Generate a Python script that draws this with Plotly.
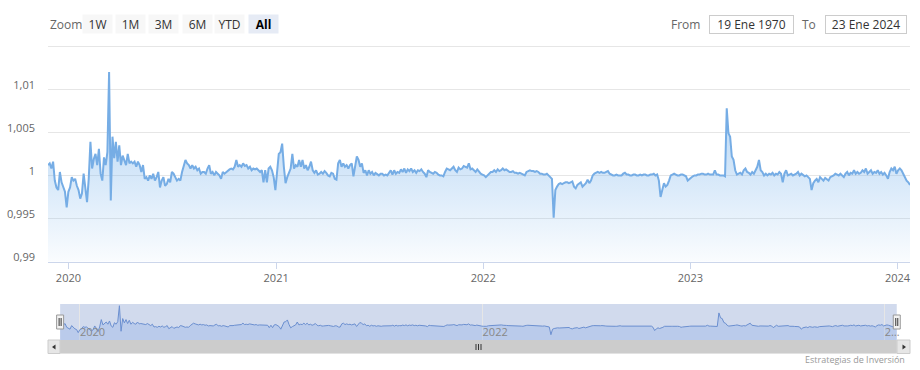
import pandas as pd
import plotly.graph_objects as go

# ---- data ----
vals_2019_20 = [
    1.0012, 1.0014, 1.0008, 1.0016, 0.9994, 0.9986, 0.9983, 1.0004, 0.9992, 0.9985,
    0.9981, 0.9963, 0.9981, 0.9986, 0.9998, 0.9994, 0.9996, 0.9988, 0.9983, 0.9973,
    0.9979, 1.0002, 0.9988, 0.9969,
    0.9996, 1.0039, 1.0008, 1.0019, 1.0025, 1.0012, 1.0031, 1.0002, 0.9994, 1.0021,
    1.0012, 1.0027,
    1.0120, 0.9971,
    1.0045, 1.0020, 1.0039, 1.0016, 1.0035, 1.0012,
    1.0023, 1.0016, 1.0012, 1.0025, 1.0014, 1.0016, 1.0014, 1.0016, 1.0010,
    1.0016, 1.0012, 1.0004, 1.0012, 0.9996, 0.9998, 0.9994, 1.0000, 0.9996, 1.0002,
    0.9994, 0.9998, 1.0004, 0.9986, 0.9994, 0.9998, 0.9988, 0.9990, 0.9996, 0.9992,
    1.0004, 1.0002, 0.9998, 0.9994, 0.9996, 0.9994, 1.0004, 1.0010, 1.0018, 1.0014,
    1.0012, 1.0008, 1.0012, 1.0008, 1.0010, 1.0006, 1.0008, 1.0002, 1.0004, 1.0004,
    1.0002, 1.0008, 1.0012, 1.0002, 1.0004, 1.0000, 1.0004, 1.0002, 1.0000, 0.9996,
    1.0004, 1.0002,
]
vals_2020_21 = [
    1.0004, 1.0006, 1.0007, 1.0008, 1.0007, 1.0010, 1.0018, 1.0010, 1.0012, 1.0010,
    1.0014, 1.0011, 1.0012, 1.0008, 1.0010, 1.0006, 1.0008, 1.0007, 1.0008, 1.0006,
    1.0004, 1.0006, 0.9992, 1.0006, 0.9992, 1.0008, 1.0010, 1.0006, 0.9998, 0.9983,
    1.0006, 1.0025, 1.0027, 1.0037, 1.0010, 0.9991, 0.9998, 1.0004, 1.0008, 1.0025,
    1.0008, 1.0012, 1.0010, 1.0018, 1.0010, 1.0018, 1.0008, 1.0012, 1.0006, 1.0010,
    1.0016, 1.0006, 1.0003, 1.0006, 1.0001, 1.0002, 1.0004, 1.0002, 1.0005, 1.0003,
    1.0000, 0.9999, 1.0003, 1.0002, 0.9996, 0.9995, 1.0014, 1.0018, 1.0010, 1.0014,
    1.0010, 1.0012, 1.0008, 1.0012, 1.0014, 0.9999, 1.0010, 1.0022, 1.0018, 1.0010,
    1.0014, 1.0003, 1.0006, 1.0000, 1.0006, 1.0002, 1.0004, 1.0000, 1.0003, 1.0001,
    1.0000, 1.0002, 1.0002, 1.0000, 1.0001, 1.0000, 1.0003, 1.0006,
    1.0001, 1.0006, 1.0002, 1.0004, 1.0003,
]
vals_2021_22 = [
    1.0007, 1.0004, 1.0008, 1.0003, 1.0007, 1.0005, 1.0008, 1.0004, 1.0006, 1.0003,
    1.0006, 1.0005, 1.0007, 1.0004, 1.0002, 0.9998, 1.0006, 1.0004, 1.0003, 1.0002,
    1.0004, 1.0003, 1.0001, 1.0000, 1.0000, 0.9999, 1.0004, 1.0008, 1.0007, 1.0006,
    1.0008, 1.0010, 1.0006, 1.0004, 1.0009, 1.0007, 1.0008, 1.0011, 1.0010, 1.0009,
    1.0014, 1.0007, 1.0008, 1.0006, 1.0004, 1.0007, 1.0004, 1.0002, 1.0001, 1.0000,
    0.9998, 1.0000, 1.0003, 1.0004, 1.0004, 1.0006, 1.0004, 1.0007, 1.0005, 1.0006,
    1.0008, 1.0006, 1.0007, 1.0005, 1.0004, 1.0004, 1.0005, 1.0003, 1.0003, 1.0002,
    1.0003, 1.0002, 1.0001, 1.0000, 1.0004, 1.0005, 1.0006, 1.0005, 1.0005, 1.0004,
    1.0005, 1.0004, 1.0002, 1.0002, 1.0001, 1.0001, 1.0002,
    1.0000, 0.9998, 0.9996, 0.9951, 0.9983, 0.9987, 0.9990, 0.9991, 0.9990, 0.9991,
    0.9992, 0.9992, 0.9991, 0.9992, 0.9993,
]
vals_2022_23 = [
    0.9987, 0.9985, 0.9989, 0.9991, 0.9992, 0.9987, 0.9989, 0.9991, 0.9995, 0.9991,
    0.9994, 1.0000, 1.0002, 1.0003, 1.0004, 1.0003, 1.0004, 1.0003, 1.0003, 1.0004,
    1.0005, 1.0002, 1.0001, 1.0000, 1.0000, 1.0001, 1.0000, 1.0000, 1.0000, 1.0002,
    1.0003, 1.0001, 1.0001, 1.0000, 1.0000, 1.0001, 1.0001, 1.0000, 1.0000, 1.0001,
    1.0000, 1.0001, 1.0001, 1.0000, 1.0000, 1.0001, 1.0001, 1.0002, 1.0000, 1.0001,
    0.9994, 0.9975, 0.9985, 0.9991, 0.9987, 0.9989, 0.9994, 1.0000, 1.0001, 1.0002,
    1.0001, 1.0000, 1.0000, 1.0001, 1.0001, 1.0000, 0.9999, 0.9994, 0.9996, 0.9998,
    0.9999, 1.0000, 1.0000, 1.0001, 1.0001, 1.0002, 1.0002, 1.0001, 1.0001, 1.0002,
    1.0001, 1.0001, 1.0001, 1.0006, 1.0001, 1.0001, 1.0000, 1.0000,
    1.0000, 0.9999, 1.0078, 1.0049, 1.0045, 1.0022, 1.0018, 1.0006, 1.0001, 1.0002,
    1.0003, 1.0001, 1.0006, 1.0008, 1.0004,
]
vals_2023_24 = [
    1.0003, 1.0001, 1.0004, 1.0002, 1.0006, 1.0010, 1.0018, 1.0006, 1.0004, 1.0000,
    1.0002, 1.0000, 1.0002, 1.0001, 1.0003, 1.0000, 1.0002, 1.0001, 1.0004, 1.0002,
    0.9992, 1.0002, 1.0006, 1.0000, 1.0001, 1.0002, 1.0000, 1.0001, 1.0002, 1.0004,
    1.0000, 1.0002, 1.0000, 0.9999, 1.0000, 0.9998, 0.9996, 0.9983, 0.9991, 0.9994,
    0.9996, 0.9992, 0.9998, 0.9996, 0.9994, 0.9997, 0.9995, 0.9994, 0.9998, 0.9999,
    1.0000, 1.0002, 1.0001, 1.0000, 1.0002, 1.0000, 0.9998, 1.0002, 1.0004, 1.0000,
    1.0003, 1.0002, 1.0006, 1.0002, 1.0004, 1.0002, 1.0003, 1.0006, 1.0004, 1.0008,
    1.0002, 1.0004, 1.0006, 1.0002, 1.0004, 1.0003, 1.0006, 1.0002, 1.0004, 1.0001,
    1.0003, 1.0000, 0.9996, 1.0004, 1.0008, 1.0006, 1.0010, 1.0002, 1.0006, 1.0008,
    1.0006, 1.0002, 0.9998, 0.9994, 0.9992, 0.9989,
]
first_date = "2019-11-26"
last_date = "2024-01-23"

y_ticks = [0.99, 0.995, 1.0, 1.005, 1.01, 1.015]
y_labels = ["0,99", "0,995", "1", "1,005", "1,01", ""]
x_ticks = ["2020-01-01", "2021-01-01", "2022-01-01", "2023-01-01", "2024-01-01"]
x_labels = ["2020", "2021", "2022", "2023", "2024"]
nav_ticks = ["2020-01-01", "2022-01-01", "2024-01-01"]
nav_labels = ["2020", "2022", "2…"]
nav_range = ["2019-11-04", "2024-02-16"]
zoom_buttons = ["1W", "1M", "3M", "6M", "YTD", "All"]
from_text = "19 Ene 1970"
to_text = "23 Ene 2024"
credit_text = "Estrategias de Inversión"

values = vals_2019_20 + vals_2020_21 + vals_2021_22 + vals_2022_23 + vals_2023_24
dates = pd.date_range(first_date, last_date, periods=len(values))

# ---- layout helpers (pixel -> paper) ----
W, H, L, R = 920, 370, 48, 10
PW = W - L - R


def px(x):
    return (x - L) / PW


def py(y):
    return 1 - y / H


FONT = "Open Sans, Arial, sans-serif"

fig = go.Figure()

fig.add_trace(go.Scatter(
    x=dates, y=values, mode="lines",
    line=dict(color="#76ade5", width=2),
    fill="tozeroy",
    fillgradient=dict(
        type="vertical", start=0.99, stop=1.012,
        colorscale=[[0, "rgba(124,181,236,0.04)"], [1, "rgba(124,181,236,0.65)"]],
    ),
    hoverinfo="skip", showlegend=False,
))

fig.add_trace(go.Scatter(
    x=dates, y=values, mode="lines", xaxis="x2", yaxis="y2",
    line=dict(color="#6b8fd0", width=1),
    fill="tozeroy", fillcolor="rgba(124,165,230,0.28)",
    hoverinfo="skip", showlegend=False,
))

shapes = []
# navigator mask (selected range)
shapes.append(dict(type="rect", xref="x2", yref="paper", x0=dates[0], x1=dates[-1],
                   y0=py(340), y1=py(304), fillcolor="rgba(102,133,194,0.3)",
                   line=dict(width=0), layer="below"))
# scrollbar
shapes.append(dict(type="rect", xref="paper", yref="paper", x0=px(48), x1=px(910),
                   y0=py(353.5), y1=py(340), fillcolor="#f2f2f2", line=dict(width=0)))
shapes.append(dict(type="rect", xref="x2", yref="paper", x0=dates[0], x1=dates[-1],
                   y0=py(353.5), y1=py(340), fillcolor="#cccccc", line=dict(width=0)))
for a, b in [(48, 60), (897, 910)]:
    shapes.append(dict(type="rect", xref="paper", yref="paper", x0=px(a), x1=px(b),
                       y0=py(353.5), y1=py(340), fillcolor="#e6e6e6",
                       line=dict(color="#cccccc", width=1)))
shapes.append(dict(type="path", xref="paper", yref="paper",
                   path=f"M {px(52)} {py(347)} L {px(55.5)} {py(344.5)} L {px(55.5)} {py(349.5)} Z",
                   fillcolor="#333333", line=dict(width=0)))
shapes.append(dict(type="path", xref="paper", yref="paper",
                   path=f"M {px(906)} {py(347)} L {px(902.5)} {py(344.5)} L {px(902.5)} {py(349.5)} Z",
                   fillcolor="#333333", line=dict(width=0)))
for xr in (476, 478.5, 481):
    shapes.append(dict(type="line", xref="paper", yref="paper", x0=px(xr), x1=px(xr),
                       y0=py(350), y1=py(344), line=dict(color="#333333", width=1)))
# navigator handles
for d in (dates[0], dates[-1]):
    shapes.append(dict(type="rect", xref="x2", yref="paper", xsizemode="pixel", xanchor=d,
                       x0=-3.5, x1=3.5, y0=py(329), y1=py(315),
                       fillcolor="#f2f2f2", line=dict(color="#999999", width=1)))
    for off in (-1, 1):
        shapes.append(dict(type="line", xref="x2", yref="paper", xsizemode="pixel", xanchor=d,
                           x0=off, x1=off, y0=py(326), y1=py(318),
                           line=dict(color="#333333", width=1)))

annotations = []
annotations.append(dict(text="Zoom", xref="paper", yref="paper", x=px(48), y=py(24),
                        xanchor="left", yanchor="middle", showarrow=False,
                        font=dict(size=12, color="#666666", family=FONT)))
btn_centers = [97, 130.5, 163.5, 197, 229.5, 263]
for lab, cx in zip(zoom_buttons, btn_centers):
    sel = lab == "All"
    annotations.append(dict(
        text=f"<b>{lab}</b>" if sel else lab, xref="paper", yref="paper",
        x=px(cx), y=py(24), xanchor="center", yanchor="middle", showarrow=False,
        width=27, height=16, borderpad=1,
        bgcolor="#e6ebf5" if sel else "#f7f7f7",
        font=dict(size=12, color="#000000" if sel else "#333333", family=FONT)))
annotations.append(dict(text="From", xref="paper", yref="paper", x=px(702), y=py(24),
                        xanchor="right", yanchor="middle", showarrow=False,
                        font=dict(size=12, color="#666666", family=FONT)))
annotations.append(dict(text=from_text, xref="paper", yref="paper", x=px(751.5), y=py(24.5),
                        xanchor="center", yanchor="middle", showarrow=False,
                        width=81, height=15, borderpad=1, bgcolor="#ffffff",
                        bordercolor="#cccccc", borderwidth=1,
                        font=dict(size=12, color="#333333", family=FONT)))
annotations.append(dict(text="To", xref="paper", yref="paper", x=px(818), y=py(24),
                        xanchor="right", yanchor="middle", showarrow=False,
                        font=dict(size=12, color="#666666", family=FONT)))
annotations.append(dict(text=to_text, xref="paper", yref="paper", x=px(866), y=py(24.5),
                        xanchor="center", yanchor="middle", showarrow=False,
                        width=78, height=15, borderpad=1, bgcolor="#ffffff",
                        bordercolor="#cccccc", borderwidth=1,
                        font=dict(size=12, color="#333333", family=FONT)))
annotations.append(dict(text=credit_text, xref="paper", yref="paper", x=px(907), y=py(359),
                        xanchor="right", yanchor="middle", showarrow=False,
                        font=dict(size=9, color="#999999", family=FONT)))

fig.update_layout(
    template="none",
    width=W, height=H,
    margin=dict(l=L, r=R, t=0, b=0, pad=0, autoexpand=False),
    paper_bgcolor="#ffffff", plot_bgcolor="#ffffff",
    font=dict(family=FONT, size=11, color="#666666"),
    hovermode=False, showlegend=False,
    xaxis=dict(
        domain=[0, 1], anchor="y", type="date", automargin=False,
        range=[dates[0], dates[-1]],
        tickvals=x_ticks, ticktext=x_labels,
        ticks="outside", ticklen=6, tickcolor="#ccd6eb",
        showline=True, linecolor="#ccd6eb", linewidth=1,
        showgrid=False, zeroline=False,
        tickfont=dict(size=11, color="#666666"),
    ),
    yaxis=dict(
        domain=[py(261.5), py(45)], anchor="x", automargin=False,
        range=[0.99, 1.01515],
        tickvals=y_ticks, ticktext=y_labels,
        showgrid=True, gridcolor="#e6e6e6", gridwidth=1,
        zeroline=False, showline=False, ticks="",
        ticklabelstandoff=12, ticklabelshift=-4,
        tickfont=dict(size=11, color="#666666"),
    ),
    xaxis2=dict(
        domain=[0, 1], anchor="y2", type="date", automargin=False,
        range=nav_range,
        tickvals=nav_ticks, ticktext=nav_labels,
        ticklabelposition="inside right", ticklabelstandoff=-4,
        showgrid=True, gridcolor="#e6e6e6",
        showline=False, zeroline=False, ticks="",
        tickfont=dict(size=11, color="#888888"),
    ),
    yaxis2=dict(
        domain=[py(340), py(304)], anchor="x2", automargin=False,
        range=[0.992, 1.013], visible=False,
    ),
    shapes=shapes,
    annotations=annotations,
)

fig.write_html("out.html")
